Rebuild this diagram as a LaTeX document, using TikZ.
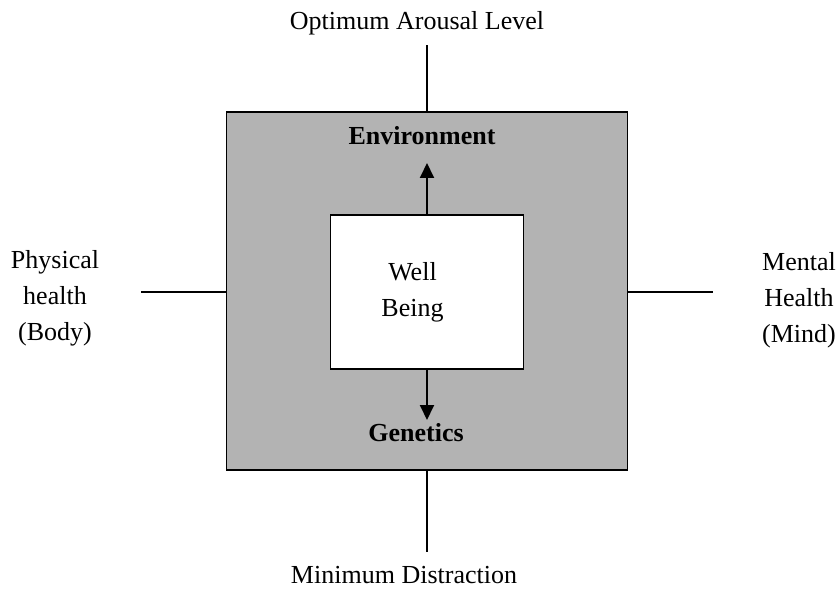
\documentclass[tikz,border=0pt]{standalone}
\usepackage{fontspec}
\setmainfont{Liberation Serif}
\usetikzlibrary{arrows.meta, positioning}
\definecolor{c1}{HTML}{000000}
\definecolor{c2}{HTML}{B3B3B3}
\definecolor{c3}{HTML}{FFFFFF}

\begin{document}
\begin{tikzpicture}[
    every node/.style={font=\fontsize{14.8}{20.5}\selectfont},
    line/.style={line width=1.1pt, color=c1},
    arr/.style={-{Triangle[length=0.30cm, width=0.28cm]}, line width=1.1pt, color=c1},
    lab/.style={align=center, inner sep=0pt},
    head/.style={font=\fontsize{14.8}{20.5}\selectfont\bfseries, inner sep=0pt},
    box/.style={rectangle, draw=c1, line width=1.1pt, inner sep=0pt},
]
\useasboundingbox (0, 0) rectangle (16.8, 11.8);

% ================================================================ boxes
\node[box, fill=c2, minimum width=8.02cm, minimum height=7.16cm] (outer) at (8.54, 5.98) {};
\node[box, fill=c3, minimum width=3.86cm, minimum height=3.07cm] (well) at (8.54, 5.96) {};
\node[lab] (welltext) at (8.25, 5.96) {Well\\Being};

% ================================================================ inside
\node[head] (env) at (8.44, 9.08) {Environment};
\node[head] (gen) at (8.32, 3.14) {Genetics};
\coordinate (envtip) at (8.54, 8.54);
\coordinate (gentip) at (8.54, 3.40);
\draw[arr] (well.north) -- (envtip);
\draw[arr] (well.south) -- (gentip);

% ================================================================ outside
\node[lab] (arousal) at (8.34, 11.34) {Optimum Arousal Level};
\node[lab] (distraction) at (8.08, 0.30) {Minimum Distraction};
\node[lab] (body) at (1.10, 5.84) {Physical\\health\\(Body)};
\node[lab] (mind) at (15.98, 5.80) {Mental\\Health\\(Mind)};

\coordinate (topend) at (8.54, 10.90);
\coordinate (botend) at (8.54, 0.76);
\coordinate (leftend) at (2.82, 5.96);
\coordinate (rightend) at (14.26, 5.96);
\draw[line] (outer.north) -- (topend);
\draw[line] (outer.south) -- (botend);
\draw[line] (outer.west |- leftend) -- (leftend);
\draw[line] (outer.east |- rightend) -- (rightend);

\end{tikzpicture}
\end{document}
